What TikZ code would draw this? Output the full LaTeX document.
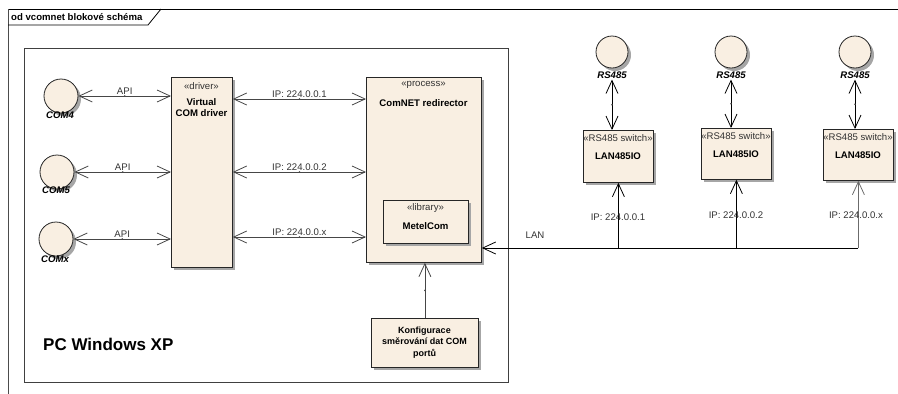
\documentclass[tikz,border=0pt]{standalone}
\usepackage{fontspec}
\setmainfont{Liberation Sans}
\usetikzlibrary{arrows.meta,shadows,decorations.markings}
\definecolor{beige}{RGB}{249,239,226}
\definecolor{lineg}{RGB}{70,70,70}
\definecolor{txtg}{RGB}{50,50,50}
\newcommand\ftn{\fontsize{9.6}{11}\selectfont}
\tikzset{
  shad/.style={drop shadow={shadow xshift=3pt,shadow yshift=-3pt,fill=black!35,opacity=1}},
  box/.style={draw=black!85, fill=beige, line width=0.8pt, shad, inner sep=0pt, anchor=north west},
  iface/.style={circle, draw=black!85, fill=beige, line width=0.8pt, shad, inner sep=0pt},
  txt/.style={font=\ftn, text=txtg, inner sep=1pt},
  bld/.style={font=\ftn\bfseries, text=black, inner sep=1pt, align=center},
  ital/.style={font=\ftn\bfseries\itshape, text=black, inner sep=1pt},
  conn/.style={line width=0.8pt, draw=lineg},
  both/.style={conn, {Straight Barb[length=13pt,width=12pt]}-{Straight Barb[length=13pt,width=12pt]}},
  toend/.style={conn, -{Straight Barb[length=13pt,width=12pt]}},
  middot/.style={postaction={decorate,decoration={markings,mark=at position 0.5 with {\fill[lineg] (0,0) circle (0.9pt);}}}},
}
\begin{document}
\begin{tikzpicture}[x=1pt,y=-1pt]
\useasboundingbox (0,0) rectangle (898,394);
% frame
\draw[line width=0.8pt, black] (898,9) -- (8,9);
\draw[line width=0.8pt, black!70] (8,9) -- (8,394);
\draw[line width=0.8pt, black] (8,25) -- (148,25) -- (161,9);
\node[font=\ftn\bfseries, anchor=west, inner sep=0pt] (title) at (11,17) {od vcomnet blokové schéma};
% PC box
\node[draw=black!75, line width=0.8pt, minimum width=484pt, minimum height=334pt, anchor=north west, inner sep=0pt] (pc) at (24,48) {};
\node[font=\fontsize{17}{19}\selectfont\bfseries, anchor=west, inner sep=0pt] (pcl) at (43,344) {PC Windows XP};
% COM interfaces
\node[iface, minimum size=34pt] (com4) at (61,96) {};
\node[iface, minimum size=34pt] (com5) at (57,172) {};
\node[iface, minimum size=34pt] (comx) at (56,239) {};
\node[ital] (com4l) at (60,115) {COM4};
\node[ital] (com5l) at (56,190) {COM5};
\node[ital] (comxl) at (55,259) {COMx};
% driver
\node[box, minimum width=61pt, minimum height=190pt] (drv) at (171,77) {};
\node[txt] (drvs) at (201.5,86) {«driver»};
\node[bld, anchor=north] (drvn) at (201.5,97) {Virtual\\COM driver};
% ComNET redirector
\node[box, minimum width=115pt, minimum height=185pt] (cnr) at (366,77) {};
\node[txt] (cnrs) at (423.5,85) {«process»};
\node[bld] (cnrn) at (423.5,103) {ComNET redirector};
% MetelCom
\node[box, minimum width=85pt, minimum height=43pt] (mc) at (383,200) {};
\node[txt] (mcs) at (425.5,208) {«library»};
\node[bld] (mcn) at (425.5,226) {MetelCom};
% Konfigurace
\node[box, minimum width=107pt, minimum height=49pt] (konf) at (371,318) {};
\node[bld, font=\fontsize{9}{11.5}\selectfont\bfseries] (konfn) at (424.5,342.5) {Konfigurace\\směrování dat COM\\portů};
% connectors in PC
\draw[both, middot] (com4.east) -- (com4.east -| drv.west) node[midway, above=0pt, txt] (a1) {API};
\draw[both, middot] (com5.east) -- (com5.east -| drv.west) node[midway, above=0pt, txt] (a2) {API};
\draw[both, middot] (comx.east) -- (comx.east -| drv.west) node[midway, above=0pt, txt] (a3) {API};
\draw[both, middot] (drv.east |- 0,99) -- (cnr.west |- 0,99) node[midway, above=0pt, txt] (i1) {IP: 224.0.0.1};
\draw[both, middot] (drv.east |- 0,172) -- (cnr.west |- 0,172) node[midway, above=0pt, txt] (i2) {IP: 224.0.0.2};
\draw[both, middot] (drv.east |- 0,237) -- (cnr.west |- 0,237) node[midway, above=0pt, txt] (i3) {IP: 224.0.0.x};
\draw[toend, middot] (konf.north) -- (konf.north |- cnr.south);
% RS485 side
\node[iface, minimum size=32pt] (r1) at (612,52) {};
\node[iface, minimum size=32pt] (r2) at (731,52) {};
\node[iface, minimum size=32pt] (r3) at (855,52) {};
\node[ital] (r1l) at (612,75) {RS485};
\node[ital] (r2l) at (731,75) {RS485};
\node[ital] (r3l) at (855,75) {RS485};
\node[box, minimum width=70pt, minimum height=52pt] (sw1) at (583,130) {};
\node[box, minimum width=70pt, minimum height=51pt] (sw2) at (701,128) {};
\node[box, minimum width=70pt, minimum height=51pt] (sw3) at (823,129) {};
\node[txt] (sw1s) at (618,138) {«RS485 switch»};
\node[bld] (sw1n) at (618,156) {LAN485IO};
\node[txt] (sw2s) at (736,136) {«RS485 switch»};
\node[bld] (sw2n) at (736,154) {LAN485IO};
\node[txt] (sw3s) at (858,137) {«RS485 switch»};
\node[bld] (sw3n) at (858,155) {LAN485IO};
\draw[both, middot, draw=black] (r1l.south) -- (r1l.south |- sw1.north);
\draw[both, middot, draw=black] (r2l.south) -- (r2l.south |- sw2.north);
\draw[both, middot, draw=black] (r3l.south) -- (r3l.south |- sw3.north);
% LAN
\coordinate (lanend) at (858,248);
\draw[toend, draw=black] (lanend) -- (cnr.east |- lanend);
\coordinate (t1) at (sw1.south |- lanend);
\coordinate (t2) at (sw2.south |- lanend);
\coordinate (t3) at (sw3.south |- lanend);
\draw[toend, draw=black] (t1) -- (sw1.south);
\draw[toend, draw=black] (t2) -- (sw2.south);
\draw[toend, draw=lineg!80] (t3) -- (sw3.south);
\node[txt] (lanl) at (535,235) {LAN};
\node[txt] (ip1) at (618,217) {IP: 224.0.0.1};
\node[txt] (ip2) at (736,215) {IP: 224.0.0.2};
\node[txt] (ip3) at (856,215) {IP: 224.0.0.x};
\end{tikzpicture}
\end{document}
